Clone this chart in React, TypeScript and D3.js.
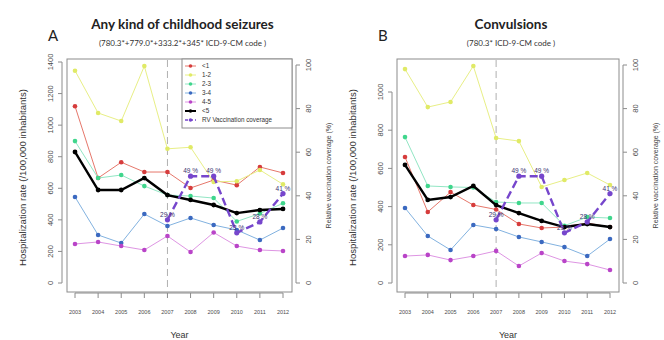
import React from "react";
import * as d3 from "d3";

// Survey years and rates per 100,000 inhabitants, by age group
const years = [2003, 2004, 2005, 2006, 2007, 2008, 2009, 2010, 2011, 2012];

const seizuresLt1 = [1120, 665, 765, 703, 703, 602, 652, 620, 735, 697];
const seizures1to2 = [1345, 1077, 1026, 1374, 850, 860, 640, 645, 716, 625];
const seizures2to3 = [899, 665, 684, 614, 557, 551, 538, 390, 440, 505];
const seizures3to4 = [545, 304, 253, 437, 361, 412, 367, 336, 272, 348];
const seizures4to5 = [247, 260, 234, 209, 298, 196, 320, 234, 209, 203];
const seizuresUnder5 = [830, 589, 589, 665, 557, 526, 494, 443, 462, 469];

const convLt1 = [660, 372, 476, 408, 385, 309, 288, 293, 314, 293];
const conv1to2 = [1120, 921, 948, 1136, 759, 743, 503, 539, 576, 513];
const conv2to3 = [764, 508, 503, 500, 424, 419, 419, 300, 345, 340];
const conv3to4 = [393, 246, 173, 304, 283, 241, 215, 188, 141, 230];
const conv4to5 = [141, 147, 120, 141, 168, 89, 157, 115, 99, 68];
const convUnder5 = [618, 435, 450, 508, 408, 366, 325, 293, 309, 293];

// Rotavirus vaccination coverage (%), from 2007 on
const rvYears = [2007, 2008, 2009, 2010, 2011, 2012];
const rvCoverage = [29, 49, 49, 23, 28, 41];

const legendLabels = ["<1", "1-2", "2-3", "3-4", "4-5", "<5", "RV Vaccination coverage"];
const rateTicksA = [0, 200, 400, 600, 800, 1000, 1200, 1400];
const rateTicksB = [0, 200, 400, 600, 800, 1000];
const coverageTicks = [0, 20, 40, 60, 80, 100];

type Style = { line: string; point: string; width: number };
const groupStyles: Style[] = [
  { line: "#e6776b", point: "#d63c3c", width: 1 },
  { line: "#e8ef86", point: "#e0ea66", width: 1 },
  { line: "#92e6c4", point: "#3fd68c", width: 1 },
  { line: "#82b2e0", point: "#3b69c0", width: 1 },
  { line: "#de95e3", point: "#b944c8", width: 1 },
  { line: "#000000", point: "#000000", width: 2.4 },
];
const rvColor = "#7646cc";

const SANS = "'Liberation Sans', Arial, sans-serif";
const TITLE_FONT = "Lato, 'Open Sans', sans-serif";

type PanelProps = {
  letter: string;
  title: string;
  subtitle: string;
  left: number;
  right: number;
  rateMax: number;
  rateTopY: number;
  rateTicks: number[];
  series: number[][];
  showLegend: boolean;
};

const TOP = 59;
const BOTTOM = 292;
const ZERO_Y = 283;

function Panel(p: PanelProps) {
  const x = d3.scaleLinear().domain([2003, 2012]).range([p.left + 8, p.right - 9]);
  const yRate = d3.scaleLinear().domain([0, p.rateMax]).range([ZERO_Y, p.rateTopY]);
  const yCov = d3.scaleLinear().domain([0, 100]).range([ZERO_Y, 65]);

  const rateLine = d3
    .line<number>()
    .x((_, i) => x(years[i]))
    .y((v) => yRate(v));
  const covLine = d3
    .line<number>()
    .x((_, i) => x(rvYears[i]))
    .y((v) => yCov(v));

  const midX = (p.left + p.right) / 2;
  const midY = (TOP + BOTTOM) / 2;
  const grey = "#8c8c8c";
  const tickText = "#4a4a4a";

  return (
    <g>
      {/* headings */}
      <text x={p.left - 19} y={41} fontFamily={TITLE_FONT} fontSize={15} fill="#222">
        {p.letter}
      </text>
      <text x={midX + 3} y={29} textAnchor="middle" fontFamily={TITLE_FONT} fontWeight="bold" fontSize={13.5} fill="#222">
        {p.title}
      </text>
      <text x={midX + 3} y={46} textAnchor="middle" fontFamily={TITLE_FONT} fontSize={8} fill="#333">
        {p.subtitle}
      </text>

      {/* plot box */}
      <rect x={p.left} y={TOP} width={p.right - p.left} height={BOTTOM - TOP} fill="none" stroke={grey} strokeWidth={1} />

      {/* left axis */}
      <line x1={p.left - 5} x2={p.left - 5} y1={yRate(0)} y2={yRate(p.rateTicks[p.rateTicks.length - 1])} stroke={grey} />
      {p.rateTicks.map((t) => (
        <g key={"l" + t}>
          <line x1={p.left - 9} x2={p.left - 5} y1={yRate(t)} y2={yRate(t)} stroke={grey} />
          <text
            transform={`translate(${p.left - 14},${yRate(t)}) rotate(-90)`}
            textAnchor="middle"
            fontFamily={SANS}
            fontSize={7.5}
            fill={tickText}
          >
            {t}
          </text>
        </g>
      ))}
      <text
        transform={`translate(${p.left - 41},${midY + 2}) rotate(-90)`}
        textAnchor="middle"
        fontFamily={SANS}
        fontSize={9.6}
        fill="#333"
      >
        Hospitalization rate (/100,000 inhabitants)
      </text>

      {/* right axis */}
      <line x1={p.right + 4} x2={p.right + 4} y1={yCov(0)} y2={yCov(100)} stroke={grey} />
      {coverageTicks.map((t) => (
        <g key={"r" + t}>
          <line x1={p.right + 4} x2={p.right + 8} y1={yCov(t)} y2={yCov(t)} stroke={grey} />
          <text
            transform={`translate(${p.right + 19},${yCov(t)}) rotate(-90)`}
            textAnchor="middle"
            fontFamily={SANS}
            fontSize={7.5}
            fill={tickText}
          >
            {t}
          </text>
        </g>
      ))}
      <text
        transform={`translate(${p.right + 39},${midY}) rotate(-90)`}
        textAnchor="middle"
        fontFamily={SANS}
        fontSize={7}
        fill="#444"
      >
        Relative vaccination coverage (%)
      </text>

      {/* bottom axis */}
      <line x1={x(2003)} x2={x(2012)} y1={BOTTOM + 1} y2={BOTTOM + 1} stroke={grey} />
      {years.map((yr) => (
        <g key={"b" + yr}>
          <line x1={x(yr)} x2={x(yr)} y1={BOTTOM + 1} y2={BOTTOM + 6} stroke={grey} />
          <text x={x(yr)} y={314} textAnchor="middle" fontFamily={SANS} fontSize={5.5} fill={tickText}>
            {yr}
          </text>
        </g>
      ))}
      <text x={midX} y={338} textAnchor="middle" fontFamily={SANS} fontSize={9} fill="#333">
        Year
      </text>

      {/* vaccine introduction */}
      <line x1={x(2007)} x2={x(2007)} y1={TOP + 1} y2={BOTTOM - 1} stroke="#b0b0b0" strokeWidth={1} strokeDasharray="7,4" />

      {/* age-group series */}
      {p.series.map((vals, si) => {
        const st = groupStyles[si];
        return (
          <g key={"s" + si}>
            <path d={rateLine(vals) || ""} fill="none" stroke={st.line} strokeWidth={st.width} />
            {vals.map((v, i) => (
              <circle key={i} cx={x(years[i])} cy={yRate(v)} r={si === 5 ? 2.4 : 2.3} fill={st.point} />
            ))}
          </g>
        );
      })}

      {/* vaccination coverage */}
      <path d={covLine(rvCoverage) || ""} fill="none" stroke={rvColor} strokeWidth={2.4} strokeDasharray="8,4" />
      {rvCoverage.map((v, i) => (
        <g key={"rv" + i}>
          <circle cx={x(rvYears[i])} cy={yCov(v)} r={2.6} fill={rvColor} />
          <text x={x(rvYears[i])} y={yCov(v) - 3} textAnchor="middle" fontFamily={SANS} fontSize={6.5} fill="#3b3470">
            {v} %
          </text>
        </g>
      ))}

      {/* legend */}
      {p.showLegend && (
        <g>
          <rect x={p.right - 110} y={TOP} width={110} height={69} fill="white" stroke={grey} />
          {legendLabels.map((lab, i) => {
            const ly = TOP + 7 + i * 9;
            const isRv = i === 6;
            const col = isRv ? rvColor : groupStyles[i].point;
            const lcol = isRv ? rvColor : groupStyles[i].line;
            return (
              <g key={lab}>
                <line x1={p.right - 107} x2={p.right - 96} y1={ly} y2={ly} stroke={lcol} strokeWidth={isRv ? 1.5 : i === 5 ? 2 : 1} strokeDasharray={isRv ? "3,2" : undefined} />
                <circle cx={p.right - 101.5} cy={ly} r={1.8} fill={col} />
                <text x={p.right - 90} y={ly + 2.3} fontFamily={SANS} fontSize={6.3} fill="#333">
                  {lab}
                </text>
              </g>
            );
          })}
        </g>
      )}
    </g>
  );
}

export default function App() {
  return (
    <svg
      width={664}
      height={340}
      viewBox="0 0 664 340"
      style={{ position: "absolute", left: 0, top: 0, background: "#ffffff" }}
    >
      <rect x={0} y={0} width={664} height={340} fill="#ffffff" />
      <Panel
        letter="A"
        title="Any kind of childhood seizures"
        subtitle="(780.3*+779.0*+333.2*+345* ICD-9-CM code )"
        left={67}
        right={292}
        rateMax={1400}
        rateTopY={62}
        rateTicks={rateTicksA}
        series={[seizuresLt1, seizures1to2, seizures2to3, seizures3to4, seizures4to5, seizuresUnder5]}
        showLegend={true}
      />
      <Panel
        letter="B"
        title="Convulsions"
        subtitle="(780.3* ICD-9-CM code )"
        left={397}
        right={619}
        rateMax={1000}
        rateTopY={92}
        rateTicks={rateTicksB}
        series={[convLt1, conv1to2, conv2to3, conv3to4, conv4to5, convUnder5]}
        showLegend={false}
      />
    </svg>
  );
}
